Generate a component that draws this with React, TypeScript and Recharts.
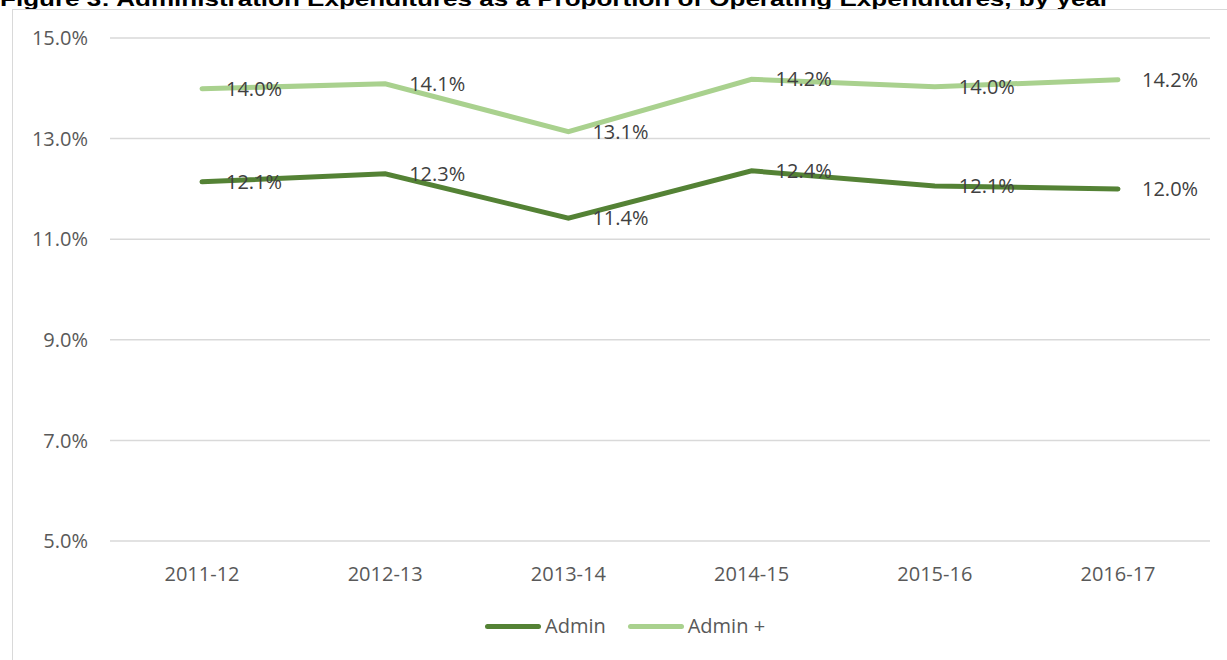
import { LineChart, Line, XAxis, YAxis, CartesianGrid, LabelList } from "recharts";

const years = ["2011-12", "2012-13", "2013-14", "2014-15", "2015-16", "2016-17"];
const admin = [12.14, 12.3, 11.42, 12.36, 12.06, 12.0];
const adminPlus = [13.99, 14.09, 13.14, 14.18, 14.03, 14.17];
const yTicks = [5, 7, 9, 11, 13, 15];

const series = [
  { key: "admin", name: "Admin", color: "#548235", values: admin },
  { key: "adminPlus", name: "Admin +", color: "#A9D18E", values: adminPlus },
];

const data = years.map((year, i) => ({
  year,
  admin: admin[i],
  adminPlus: adminPlus[i],
}));

const font = "'Open Sans', sans-serif";
const pct = (v: number) => `${v.toFixed(1)}%`;

export default function App() {
  return (
    <div
      style={{
        position: "absolute",
        left: 0,
        top: 0,
        width: 1227,
        height: 660,
        overflow: "hidden",
        background: "#fff",
        fontFamily: font,
      }}
    >
      <svg width={1227} height={20} style={{ position: "absolute", left: 0, top: 0 }}>
        <text
          x={0}
          y={6}
          fontFamily="'Liberation Sans', Arial, sans-serif"
          fontWeight="bold"
          fontSize={21}
          fill="#000"
          textLength={1110}
          lengthAdjust="spacingAndGlyphs"
        >
          Figure 3: Administration Expenditures as a Proportion of Operating Expenditures, by year
        </text>
      </svg>
      <div
        style={{
          position: "absolute",
          left: 12,
          top: 9,
          width: 1240,
          height: 700,
          border: "1px solid #d9d9d9",
          boxSizing: "border-box",
        }}
      />
      <div style={{ position: "absolute", left: 0, top: 0 }}>
        <LineChart
          width={1227}
          height={660}
          data={data}
          margin={{ top: 38, right: 17, bottom: 0, left: 0 }}
        >
          <CartesianGrid vertical={false} stroke="#d9d9d9" strokeWidth={1.5} />
          <XAxis
            dataKey="year"
            axisLine={false}
            tickLine={false}
            padding={{ left: 92, right: 92 }}
            height={119}
            tickMargin={20}
            tick={{ fill: "#595959", fontSize: 20, fontFamily: font }}
          />
          <YAxis
            domain={[5, 15]}
            ticks={yTicks}
            width={110}
            axisLine={false}
            tickLine={false}
            tickMargin={16}
            tickFormatter={pct}
            tick={{ fill: "#595959", fontSize: 20, fontFamily: font }}
          />
          {series.map((s) => (
            <Line
              key={s.key}
              dataKey={s.key}
              name={s.name}
              stroke={s.color}
              strokeWidth={5}
              strokeLinecap="round"
              dot={false}
              isAnimationActive={false}
            >
              <LabelList
                dataKey={s.key}
                position="right"
                offset={24}
                formatter={(v: any) => pct(Number(v))}
                fill="#404040"
                fontSize={20}
                fontFamily={font}
              />
            </Line>
          ))}
        </LineChart>
      </div>
      <div
        style={{
          position: "absolute",
          top: 614,
          left: 485,
          display: "flex",
          alignItems: "center",
          fontSize: 20,
          color: "#595959",
          lineHeight: "24px",
        }}
      >
        {series.map((s, i) => (
          <div key={s.key} style={{ display: "flex", alignItems: "center", marginLeft: i ? 22 : 0 }}>
            <span
              style={{
                display: "inline-block",
                width: 56,
                height: 5,
                borderRadius: 3,
                background: s.color,
                marginRight: 4,
              }}
            />
            <span>{s.name}</span>
          </div>
        ))}
      </div>
    </div>
  );
}
